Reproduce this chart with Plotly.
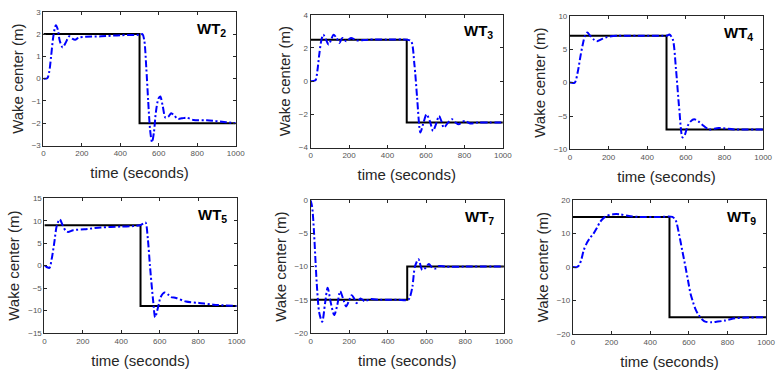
import plotly.graph_objects as go

W, H = 782, 379

titles = ["2", "3", "4", "5", "7", "9"]

# Reference (black step) levels: before and after t=500
ref_before = [2, 2.5, 7, 9, -15, 15]
ref_after = [-2, -2.5, -7, -9, -10, -15]
ref_t = [0, 500, 500, 1000]

# Estimated wake-center trajectories (dash-dot blue)
t1 = [0, 20, 30, 40, 50, 60, 65, 75, 85, 100, 115, 135, 150, 165, 185, 220, 300, 400, 500, 515, 525, 535, 545, 555, 565, 575, 585, 598, 608, 620, 635, 650, 665, 680, 700, 720, 745, 780, 850, 950, 1000]
y1 = [0, 0.02, 0.3, 1.0, 1.8, 2.3, 2.4, 2.2, 1.7, 1.4, 1.6, 1.9, 1.8, 1.75, 1.85, 1.88, 1.9, 1.95, 1.97, 2.0, 1.7, 0.5, -1.0, -2.3, -2.85, -2.4, -1.5, -0.9, -0.8, -1.2, -1.75, -1.7, -1.55, -1.65, -1.8, -1.78, -1.75, -1.85, -1.87, -1.95, -2.0]

t2 = [0, 25, 35, 45, 55, 66, 80, 94, 107, 119, 135, 150, 165, 185, 210, 240, 300, 400, 500, 523, 540, 554, 566, 571, 585, 603, 620, 637, 652, 668, 680, 693, 715, 736, 755, 770, 790, 804, 830, 870, 930, 1000]
y2 = [0, 0.05, 0.6, 1.6, 2.4, 2.8, 2.5, 2.2, 2.5, 2.8, 2.6, 2.3, 2.6, 2.4, 2.6, 2.45, 2.5, 2.5, 2.5, 2.4, 1.0, -1.0, -2.8, -3.1, -2.6, -2.0, -2.4, -3.0, -2.6, -2.1, -2.4, -2.8, -2.5, -2.3, -2.5, -2.6, -2.45, -2.4, -2.55, -2.5, -2.5, -2.5]

t3 = [0, 25, 40, 55, 65, 78, 90, 105, 125, 141, 165, 192, 250, 350, 480, 505, 515, 532, 549, 566, 583, 595, 609, 625, 643, 665, 685, 719, 770, 850, 1000]
y3 = [0, 0, 1.5, 4.0, 5.5, 7.0, 7.5, 7.0, 6.4, 6.2, 6.5, 6.8, 7.0, 7.0, 7.0, 7.05, 7.2, 6.5, 2.0, -4.0, -8.2, -7.8, -6.5, -5.8, -5.5, -5.8, -6.3, -7.0, -6.8, -7.0, -7.0]

t4 = [0, 12, 26, 38, 51, 65, 80, 95, 110, 123, 150, 208, 293, 400, 463, 497, 515, 526, 538, 549, 566, 576, 590, 605, 625, 645, 659, 685, 736, 804, 880, 1000]
y4 = [0, -0.3, -0.5, 1.5, 5.0, 9.0, 10.3, 9.0, 7.8, 7.5, 7.9, 8.1, 8.5, 8.7, 8.8, 9.0, 9.4, 9.6, 6.0, 0.0, -8.0, -11.5, -9.5, -7.0, -6.0, -6.5, -7.0, -7.2, -8.0, -8.3, -8.7, -9.0]

t5 = [0, 8, 18, 26, 34, 45, 60, 75, 88, 105, 122, 138, 153, 168, 184, 198, 213, 225, 238, 258, 280, 310, 360, 450, 505, 515, 527, 540, 558, 578, 595, 612, 628, 645, 665, 700, 800, 1000]
y5 = [0, -1.0, -5.0, -9.5, -13.5, -17.0, -18.3, -15.5, -13.2, -15.5, -17.3, -15.8, -13.7, -14.8, -16.0, -15.2, -14.3, -14.8, -15.5, -14.8, -15.2, -14.9, -15.0, -15.0, -15.0, -14.5, -13.0, -10.0, -8.9, -10.5, -10.2, -9.6, -10.1, -10.3, -9.9, -10.0, -10.0, -10.0]

t6 = [0, 20, 32, 45, 56, 75, 90, 107, 125, 141, 158, 175, 209, 243, 290, 345, 450, 515, 532, 549, 566, 583, 596, 609, 622, 634, 647, 660, 672, 685, 719, 750, 787, 830, 900, 1000]
y6 = [0, 0, 0.5, 2.5, 5.0, 7.5, 8.8, 10.0, 11.8, 13.5, 14.6, 15.3, 15.8, 15.8, 15.3, 15.0, 15.0, 15.0, 14.0, 10.0, 5.0, 0.0, -4.0, -8.0, -10.5, -12.5, -14.0, -15.0, -15.8, -16.3, -16.5, -16.3, -16.0, -15.4, -15.1, -15.0]

series_t = [t1, t2, t3, t4, t5, t6]
series_y = [y1, y2, y3, y4, y5, y6]

y_ranges = [[-3, 3], [-4, 4], [-10, 10], [-15, 15], [-20, 0], [-20, 20]]
y_dticks = [1, 2, 5, 5, 5, 10]

# pixel boxes of each plot area: (left, right, top, bottom)
boxes = [(42, 237, 8, 145), (313, 508, 11, 147), (576, 772, 12, 149),
         (43, 238, 199, 337), (313, 509, 201, 337), (579, 775, 201, 338)]

fig = go.Figure()
axis_col = "#262626"
tick_font = dict(family="Liberation Sans, Arial, sans-serif", size=8, color="#555555")
title_font = dict(family="Liberation Sans, Arial, sans-serif", size=15, color="#262626")

for i in range(6):
    n = "" if i == 0 else str(i + 1)
    xa, ya = "x" + n, "y" + n
    rv = [ref_before[i], ref_before[i], ref_after[i], ref_after[i]]
    fig.add_trace(go.Scatter(x=ref_t, y=rv, mode="lines", line=dict(color="black", width=2),
                             xaxis=xa, yaxis=ya, showlegend=False))
    fig.add_trace(go.Scatter(x=series_t[i], y=series_y[i], mode="lines",
                             line=dict(color="#0000ff", width=2, dash="7px,2.5px,2px,2.5px",
                                       shape="spline", smoothing=0.8),
                             xaxis=xa, yaxis=ya, showlegend=False))
    l, r, t, b = boxes[i]
    common = dict(showline=True, linecolor=axis_col, linewidth=1, mirror="allticks",
                  ticks="inside", ticklen=3, tickcolor=axis_col, showgrid=False, zeroline=False,
                  tickfont=tick_font)
    fig.update_layout(**{
        "xaxis" + n: dict(domain=[l / W, r / W], anchor=ya, range=[0, 1000], dtick=200, tick0=0,
                          title=dict(text="time (seconds)", font=title_font, standoff=10), **common),
        "yaxis" + n: dict(domain=[1 - b / H, 1 - t / H], anchor=xa, range=y_ranges[i], dtick=y_dticks[i],
                          title=dict(text="Wake center (m)", font=title_font, standoff=4), **common),
    })
    fig.add_annotation(text="<b>WT<sub>" + titles[i] + "</sub></b>", xref=xa + " domain", yref=ya + " domain",
                       x=0.96, y=0.87, xanchor="right", yanchor="middle", showarrow=False,
                       font=dict(family="Liberation Sans, Arial, sans-serif", size=15, color="black"))

fig.update_layout(width=W, height=H, margin=dict(l=0, r=0, t=0, b=0),
                  paper_bgcolor="white", plot_bgcolor="white")
fig.write_html("out.html")
